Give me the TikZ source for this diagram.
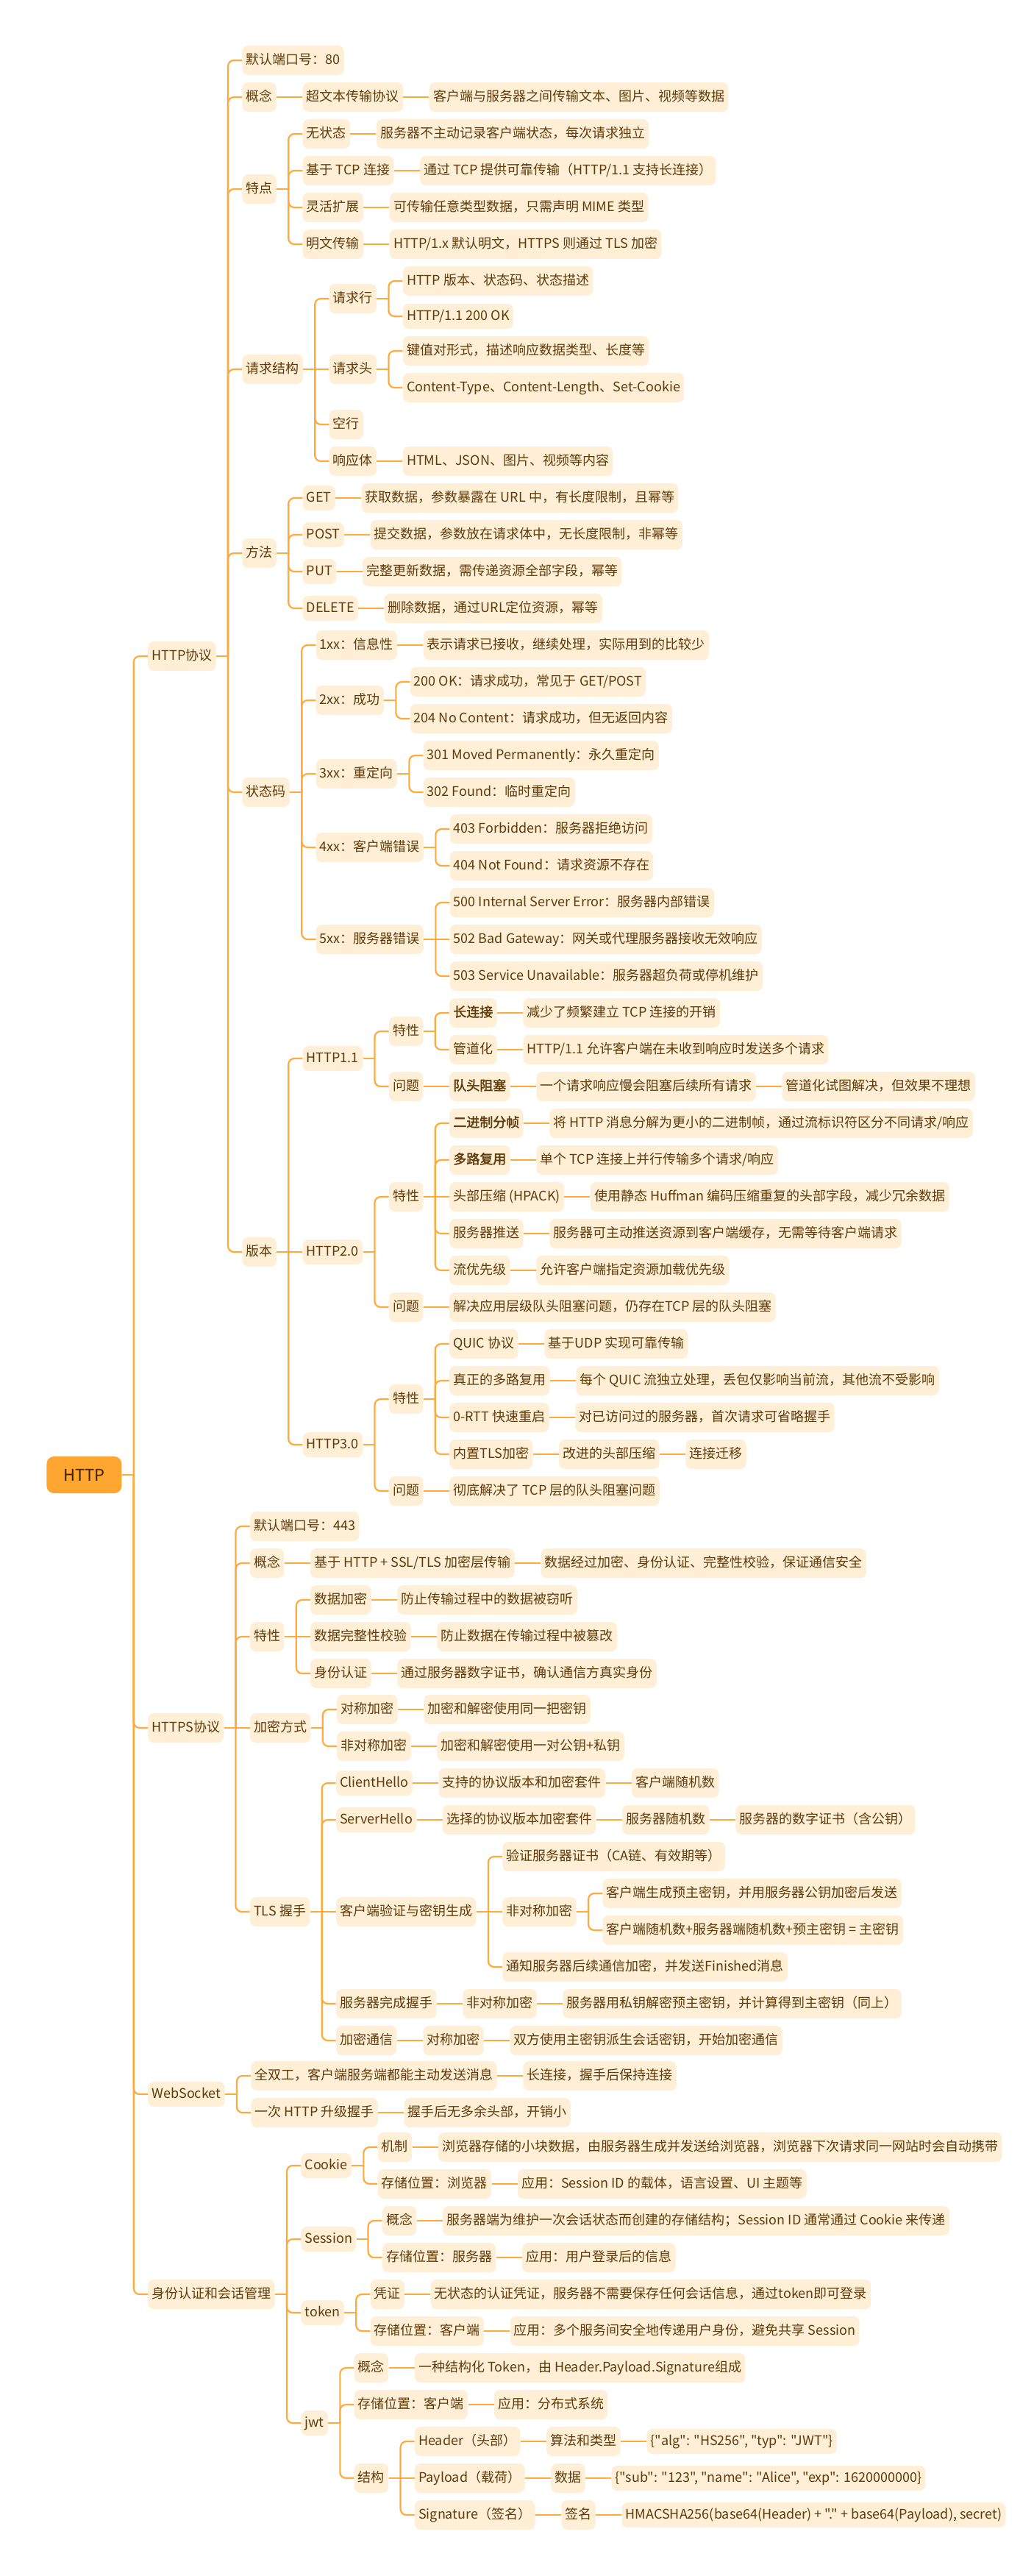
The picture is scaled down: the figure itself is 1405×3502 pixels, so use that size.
\documentclass[tikz,border=0pt]{standalone}
\usepackage{fontspec}
\newfontfamily\nfont{Noto Sans CJK SC}[AutoFakeBold=2]
\definecolor{linec}{HTML}{FFAA3B}
\definecolor{nodefill}{HTML}{FFEFD6}
\definecolor{nodetext}{HTML}{5E3B0B}
\definecolor{rootfill}{HTML}{FFA630}
\definecolor{roottext}{HTML}{3A2200}
\tikzset{
  box/.style={fill=nodefill, text=nodetext, rounded corners=4pt, inner xsep=2.6pt, inner ysep=0pt,
    minimum height=20pt, text height=7pt, text depth=1.8pt, font=\nfont\fontsize{9}{11}\selectfont},
  lbox/.style={box, minimum height=17pt},
  bbox/.style={box, font=\nfont\fontsize{9}{11}\selectfont\bfseries},
  rootbox/.style={fill=rootfill, text=roottext, rounded corners=5pt, inner xsep=4pt, inner ysep=0pt,
    minimum width=51pt, minimum height=25pt, font=\nfont\fontsize{11}{13}\selectfont},
  stub/.style={draw=linec, line width=1.4pt},
  branch/.style={draw=linec, line width=1.1pt, rounded corners=4pt}
}
% #1 style, #2 name, #3 parent, #4 y, #5 text
\newcommand\kid[5][box]{%
  \path (#3.east) ++(35,0) coordinate (#2-x);
  \path (0,#4) coordinate (#2-y);
  \node[#1, anchor=west] (#2) at (#2-x |- #2-y) {#5};
  \draw[stub] (#3.east) -- ++(16,0);
  \pgfpointanchor{#3}{center}\pgfgetlastxy{\kpx}{\kpy}%
  \pgfpointanchor{#2}{center}\pgfgetlastxy{\kcx}{\kcy}%
  \pgfmathparse{abs(\kpy-\kcy)}%
  \ifdim\pgfmathresult pt<0.5pt
    \draw[stub] ([xshift=8pt]#3.east) -- (#2.west);
  \else
    \draw[branch] ([xshift=8pt]#3.east) |- (#2.west);
  \fi
}
\begin{document}
\begin{tikzpicture}[x=0.5pt,y=-0.5pt]
\fill[white] (0,0) rectangle (1405,3502);
\useasboundingbox (0,0) rectangle (1405,3502);
\node[rootbox, anchor=west] (root) at (63,2005) {HTTP};
% ===== HTTP协议 =====
\kid{h}{root}{892}{HTTP协议}
\kid{h1}{h}{82}{默认端口号：80}
\kid{h2}{h}{132}{概念}
\kid{h2a}{h2}{132}{超文本传输协议}
\kid{h2b}{h2a}{132}{客户端与服务器之间传输文本、图片、视频等数据}
\kid{h3}{h}{257}{特点}
\kid{h3a}{h3}{182}{无状态}
\kid{h3a1}{h3a}{182}{服务器不主动记录客户端状态，每次请求独立}
\kid{h3b}{h3}{232}{基于 TCP 连接}
\kid{h3b1}{h3b}{232}{通过 TCP 提供可靠传输（HTTP/1.1 支持长连接）}
\kid{h3c}{h3}{282}{灵活扩展}
\kid{h3c1}{h3c}{282}{可传输任意类型数据，只需声明 MIME 类型}
\kid{h3d}{h3}{332}{明文传输}
\kid{h3d1}{h3d}{332}{HTTP/1.x 默认明文，HTTPS 则通过 TLS 加密}
\kid{h4}{h}{502}{请求结构}
\kid{h4a}{h4}{406}{请求行}
\kid{h4a1}{h4a}{382}{HTTP 版本、状态码、状态描述}
\kid[lbox]{h4a2}{h4a}{430}{HTTP/1.1 200 OK}
\kid{h4b}{h4}{502}{请求头}
\kid{h4b1}{h4b}{477}{键值对形式，描述响应数据类型、长度等}
\kid{h4b2}{h4b}{527}{Content-Type、Content-Length、Set-Cookie}
\kid{h4c}{h4}{577}{空行}
\kid{h4d}{h4}{627}{响应体}
\kid{h4d1}{h4d}{627}{HTML、JSON、图片、视频等内容}
\kid{h5}{h}{752}{方法}
\kid[lbox]{h5a}{h5}{677}{GET}
\kid{h5a1}{h5a}{677}{获取数据，参数暴露在 URL 中，有长度限制，且幂等}
\kid[lbox]{h5b}{h5}{727}{POST}
\kid{h5b1}{h5b}{727}{提交数据，参数放在请求体中，无长度限制，非幂等}
\kid[lbox]{h5c}{h5}{777}{PUT}
\kid{h5c1}{h5c}{777}{完整更新数据，需传递资源全部字段，幂等}
\kid[lbox]{h5d}{h5}{827}{DELETE}
\kid{h5d1}{h5d}{827}{删除数据，通过URL定位资源，幂等}
\kid{h6}{h}{1077}{状态码}
\kid{h6a}{h6}{877}{1xx：信息性}
\kid{h6a1}{h6a}{877}{表示请求已接收，继续处理，实际用到的比较少}
\kid{h6b}{h6}{952}{2xx：成功}
\kid{h6b1}{h6b}{927}{200 OK：请求成功，常见于 GET/POST}
\kid{h6b2}{h6b}{977}{204 No Content：请求成功，但无返回内容}
\kid{h6c}{h6}{1052}{3xx：重定向}
\kid{h6c1}{h6c}{1027}{301 Moved Permanently：永久重定向}
\kid{h6c2}{h6c}{1077}{302 Found：临时重定向}
\kid{h6d}{h6}{1152}{4xx：客户端错误}
\kid{h6d1}{h6d}{1127}{403 Forbidden：服务器拒绝访问}
\kid{h6d2}{h6d}{1177}{404 Not Found：请求资源不存在}
\kid{h6e}{h6}{1277}{5xx：服务器错误}
\kid{h6e1}{h6e}{1227}{500 Internal Server Error：服务器内部错误}
\kid{h6e2}{h6e}{1277}{502 Bad Gateway：网关或代理服务器接收无效响应}
\kid{h6e3}{h6e}{1327}{503 Service Unavailable：服务器超负荷或停机维护}
\kid{h7}{h}{1702}{版本}
\kid[lbox]{v1}{h7}{1439}{HTTP1.1}
\kid{v1a}{v1}{1402}{特性}
\kid[bbox]{v1a1}{v1a}{1377}{长连接}
\kid{v1a1d}{v1a1}{1377}{减少了频繁建立 TCP 连接的开销}
\kid{v1a2}{v1a}{1427}{管道化}
\kid{v1a2d}{v1a2}{1427}{HTTP/1.1 允许客户端在未收到响应时发送多个请求}
\kid{v1b}{v1}{1477}{问题}
\kid[bbox]{v1b1}{v1b}{1477}{队头阻塞}
\kid{v1b2}{v1b1}{1477}{一个请求响应慢会阻塞后续所有请求}
\kid{v1b3}{v1b2}{1477}{管道化试图解决，但效果不理想}
\kid[lbox]{v2}{h7}{1702}{HTTP2.0}
\kid{v2a}{v2}{1627}{特性}
\kid[bbox]{v2a1}{v2a}{1527}{二进制分帧}
\kid{v2a1d}{v2a1}{1527}{将 HTTP 消息分解为更小的二进制帧，通过流标识符区分不同请求/响应}
\kid[bbox]{v2a2}{v2a}{1577}{多路复用}
\kid{v2a2d}{v2a2}{1577}{单个 TCP 连接上并行传输多个请求/响应}
\kid{v2a3}{v2a}{1627}{头部压缩 (HPACK)}
\kid{v2a3d}{v2a3}{1627}{使用静态 Huffman 编码压缩重复的头部字段，减少冗余数据}
\kid{v2a4}{v2a}{1677}{服务器推送}
\kid{v2a4d}{v2a4}{1677}{服务器可主动推送资源到客户端缓存，无需等待客户端请求}
\kid{v2a5}{v2a}{1727}{流优先级}
\kid{v2a5d}{v2a5}{1727}{允许客户端指定资源加载优先级}
\kid{v2b}{v2}{1777}{问题}
\kid{v2b1}{v2b}{1777}{解决应用层级队头阻塞问题，仍存在TCP 层的队头阻塞}
\kid[lbox]{v3}{h7}{1964}{HTTP3.0}
\kid{v3a}{v3}{1902}{特性}
\kid{v3a1}{v3a}{1827}{QUIC 协议}
\kid{v3a1d}{v3a1}{1827}{基于UDP 实现可靠传输}
\kid{v3a2}{v3a}{1877}{真正的多路复用}
\kid{v3a2d}{v3a2}{1877}{每个 QUIC 流独立处理，丢包仅影响当前流，其他流不受影响}
\kid{v3a3}{v3a}{1927}{0-RTT 快速重启}
\kid{v3a3d}{v3a3}{1927}{对已访问过的服务器，首次请求可省略握手}
\kid{v3a4}{v3a}{1977}{内置TLS加密}
\kid{v3a4d}{v3a4}{1977}{改进的头部压缩}
\kid{v3a4e}{v3a4d}{1977}{连接迁移}
\kid{v3b}{v3}{2027}{问题}
\kid{v3b1}{v3b}{2027}{彻底解决了 TCP 层的队头阻塞问题}
% ===== HTTPS协议 =====
\kid{s}{root}{2349}{HTTPS协议}
\kid{s1}{s}{2075}{默认端口号：443}
\kid{s2}{s}{2125}{概念}
\kid{s2a}{s2}{2125}{基于 HTTP + SSL/TLS 加密层传输}
\kid{s2b}{s2a}{2125}{数据经过加密、身份认证、完整性校验，保证通信安全}
\kid{s3}{s}{2225}{特性}
\kid{s3a}{s3}{2175}{数据加密}
\kid{s3a1}{s3a}{2175}{防止传输过程中的数据被窃听}
\kid{s3b}{s3}{2225}{数据完整性校验}
\kid{s3b1}{s3b}{2225}{防止数据在传输过程中被篡改}
\kid{s3c}{s3}{2275}{身份认证}
\kid{s3c1}{s3c}{2275}{通过服务器数字证书，确认通信方真实身份}
\kid{s4}{s}{2349}{加密方式}
\kid{s4a}{s4}{2324}{对称加密}
\kid{s4a1}{s4a}{2324}{加密和解密使用同一把密钥}
\kid{s4b}{s4}{2374}{非对称加密}
\kid{s4b1}{s4b}{2374}{加密和解密使用一对公钥+私钥}
\kid{s5}{s}{2599}{TLS 握手}
\kid[lbox]{t1}{s5}{2424}{ClientHello}
\kid{t1a}{t1}{2424}{支持的协议版本和加密套件}
\kid{t1b}{t1a}{2424}{客户端随机数}
\kid[lbox]{t2}{s5}{2474}{ServerHello}
\kid{t2a}{t2}{2474}{选择的协议版本加密套件}
\kid{t2b}{t2a}{2474}{服务器随机数}
\kid{t2c}{t2b}{2474}{服务器的数字证书（含公钥）}
\kid{t3}{s5}{2599}{客户端验证与密钥生成}
\kid{t3a}{t3}{2524}{验证服务器证书（CA链、有效期等）}
\kid{t3b}{t3}{2599}{非对称加密}
\kid{t3b1}{t3b}{2574}{客户端生成预主密钥，并用服务器公钥加密后发送}
\kid{t3b2}{t3b}{2624}{客户端随机数+服务器端随机数+预主密钥 = 主密钥}
\kid{t3c}{t3}{2674}{通知服务器后续通信加密，并发送Finished消息}
\kid{t4}{s5}{2724}{服务器完成握手}
\kid{t4a}{t4}{2724}{非对称加密}
\kid{t4b}{t4a}{2724}{服务器用私钥解密预主密钥，并计算得到主密钥（同上）}
\kid{t5}{s5}{2774}{加密通信}
\kid{t5a}{t5}{2774}{对称加密}
\kid{t5b}{t5a}{2774}{双方使用主密钥派生会话密钥，开始加密通信}
% ===== WebSocket =====
\kid[lbox]{ws}{root}{2847}{WebSocket}
\kid{ws1}{ws}{2822}{全双工，客户端服务端都能主动发送消息}
\kid{ws1a}{ws1}{2822}{长连接，握手后保持连接}
\kid{ws2}{ws}{2872}{一次 HTTP 升级握手}
\kid{ws2a}{ws2}{2872}{握手后无多余头部，开销小}
% ===== 身份认证和会话管理 =====
\kid{au}{root}{3119}{身份认证和会话管理}
\kid[lbox]{c}{au}{2944}{Cookie}
\kid{c1}{c}{2919}{机制}
\kid{c1a}{c1}{2919}{浏览器存储的小块数据，由服务器生成并发送给浏览器，浏览器下次请求同一网站时会自动携带}
\kid{c2}{c}{2969}{存储位置：浏览器}
\kid{c2a}{c2}{2969}{应用：Session ID 的载体，语言设置、UI 主题等}
\kid[lbox]{se}{au}{3044}{Session}
\kid{se1}{se}{3019}{概念}
\kid{se1a}{se1}{3019}{服务器端为维护一次会话状态而创建的存储结构；Session ID 通常通过 Cookie 来传递}
\kid{se2}{se}{3069}{存储位置：服务器}
\kid{se2a}{se2}{3069}{应用：用户登录后的信息}
\kid[lbox]{tk}{au}{3144}{token}
\kid{tk1}{tk}{3119}{凭证}
\kid{tk1a}{tk1}{3119}{无状态的认证凭证，服务器不需要保存任何会话信息，通过token即可登录}
\kid{tk2}{tk}{3169}{存储位置：客户端}
\kid{tk2a}{tk2}{3169}{应用：多个服务间安全地传递用户身份，避免共享 Session}
\kid[lbox]{j}{au}{3294}{jwt}
\kid{j1}{j}{3219}{概念}
\kid{j1a}{j1}{3219}{一种结构化 Token，由 Header.Payload.Signature组成}
\kid{j2}{j}{3269}{存储位置：客户端}
\kid{j2a}{j2}{3269}{应用：分布式系统}
\kid{j3}{j}{3369}{结构}
\kid{j3a}{j3}{3319}{Header（头部）}
\kid{j3a1}{j3a}{3319}{算法和类型}
\kid[lbox]{j3a2}{j3a1}{3319}{\{"alg": "HS256", "typ": "JWT"\}}
\kid{j3b}{j3}{3369}{Payload（载荷）}
\kid{j3b1}{j3b}{3369}{数据}
\kid[lbox]{j3b2}{j3b1}{3369}{\{"sub": "123", "name": "Alice", "exp": 1620000000\}}
\kid{j3c}{j3}{3419}{Signature（签名）}
\kid{j3c1}{j3c}{3419}{签名}
\kid[lbox]{j3c2}{j3c1}{3419}{HMACSHA256(base64(Header) + "." + base64(Payload), secret)}
\end{tikzpicture}
\end{document}
